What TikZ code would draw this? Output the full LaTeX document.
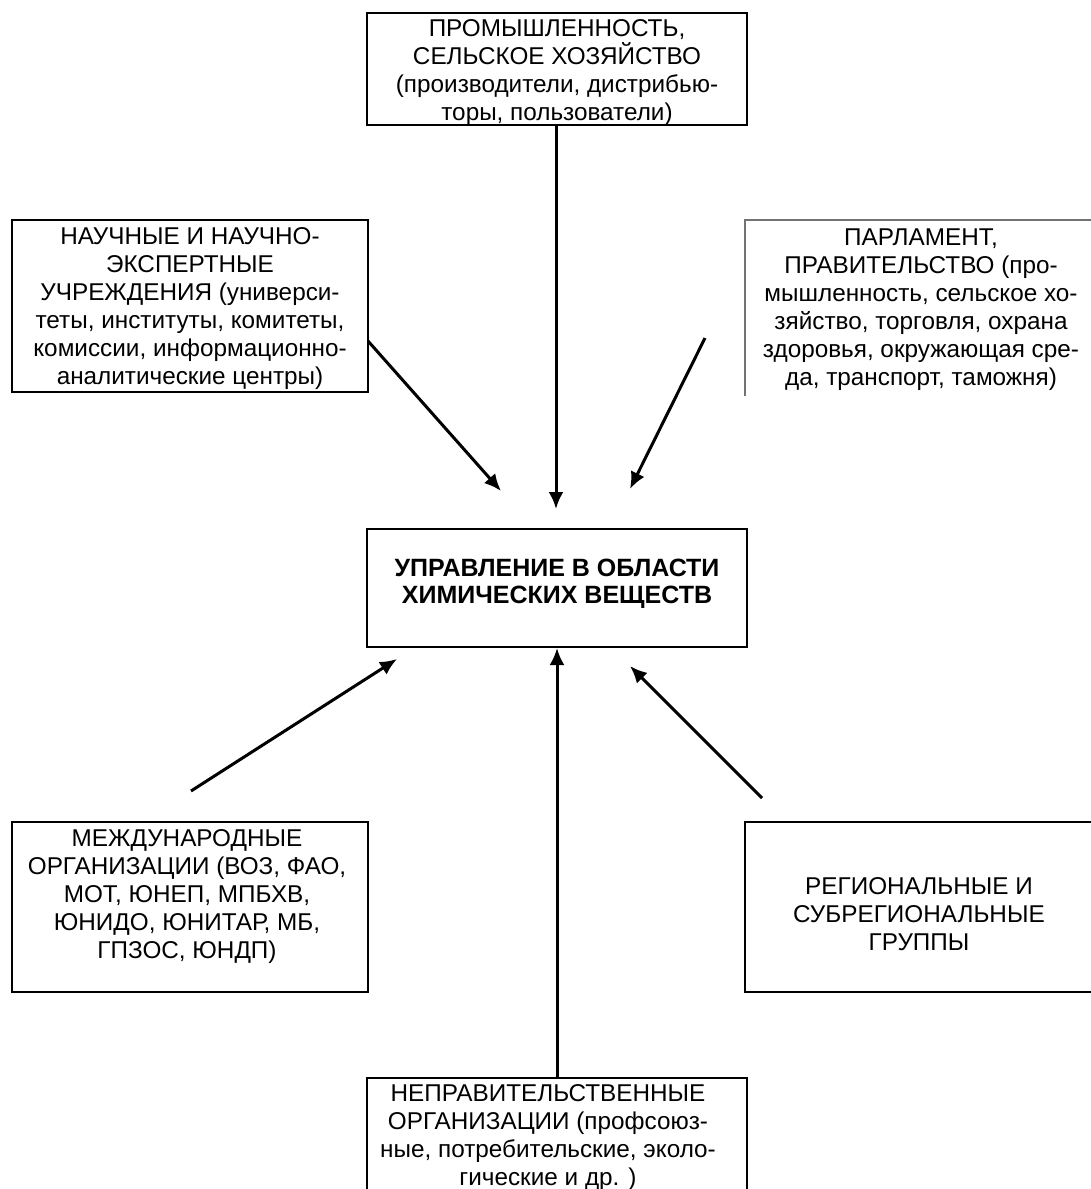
\documentclass[tikz,border=0pt]{standalone}
\usepackage{fontspec}
\setmainfont{Liberation Sans}
\usetikzlibrary{arrows.meta}
\tikzset{
  boxline/.style={draw=black, line width=1.8pt},
  thinline/.style={draw=black!55, line width=1.2pt},
  boxnode/.style={boxline, inner sep=0pt, minimum width=#1},
  txt/.style={align=center, inner sep=0pt, font=\fontsize{24.3}{28}\selectfont},
  btxt/.style={align=center, inner sep=0pt, font=\fontsize{25}{27}\selectfont\bfseries},
  arr/.style={line width=3pt, -{Latex[length=17pt,width=15pt]}}
}
\begin{document}
\begin{tikzpicture}[x=1pt,y=-1pt]
\useasboundingbox[fill=white] (0,0) rectangle (1091,1189);

% boxes
\node[boxnode=380pt, minimum height=112pt] (top) at (557,69) {};
\node[txt] (toptxt) at (557,73) {ПРОМЫШЛЕННОСТЬ,\\СЕЛЬСКОЕ ХОЗЯЙСТВО\\(производители, дистрибью-\\торы, пользователи)};

\node[boxnode=356pt, minimum height=172pt] (lu) at (190,306) {};
\node[txt] (lutxt) at (190,309) {НАУЧНЫЕ И НАУЧНО-\\ЭКСПЕРТНЫЕ\\УЧРЕЖДЕНИЯ (универси-\\теты, институты, комитеты,\\комиссии, информационно-\\аналитические центры)};

\draw[thinline] (1095,220) -- (745,220) -- (745,396);
\node[txt] (rutxt) at (921,310) {ПАРЛАМЕНТ,\\ПРАВИТЕЛЬСТВО (про-\\мышленность, сельское хо-\\зяйство, торговля, охрана\\здоровья, окружающая сре-\\да, транспорт, таможня)};

\node[boxnode=380pt, minimum height=118pt] (center) at (557,588) {};
\node[btxt] (centertxt) at (557,584) {УПРАВЛЕНИЕ В ОБЛАСТИ\\ХИМИЧЕСКИХ ВЕЩЕСТВ};

\node[boxnode=356pt, minimum height=170pt] (ll) at (190,907) {};
\node[txt] (lltxt) at (187,897) {МЕЖДУНАРОДНЫЕ\\ОРГАНИЗАЦИИ (ВОЗ, ФАО,\\МОТ, ЮНЕП, МПБХВ,\\ЮНИДО, ЮНИТАР, МБ,\\ГПЗОС, ЮНДП)};

\draw[boxline] (1095,822) -- (745,822) -- (745,992) -- (1095,992);
\node[txt] (rltxt) at (919,914) {РЕГИОНАЛЬНЫЕ И\\СУБРЕГИОНАЛЬНЫЕ\\ГРУППЫ};

\draw[boxline] (367,1195) -- (367,1078) -- (747,1078) -- (747,1195);
\node[txt] (bottxt) at (548,1138) {НЕПРАВИТЕЛЬСТВЕННЫЕ\\ОРГАНИЗАЦИИ (профсоюз-\\ные, потребительские, эколо-\\гические и др. )};

% arrow ends
\coordinate (t1) at (556,509);
\coordinate (s2) at (368,341);
\coordinate (t2) at (501,491);
\coordinate (s3) at (705,338);
\coordinate (t3) at (630,489);
\coordinate (s4) at (191,791);
\coordinate (t4) at (397,659);
\coordinate (s5) at (557,1078);
\coordinate (t5) at (557,648);
\coordinate (s6) at (762,798);
\coordinate (t6) at (630,666);

\draw[arr] (top.south -| t1) -- (t1);
\draw[arr] (s2) -- (t2);
\draw[arr] (s3) -- (t3);
\draw[arr] (s4) -- (t4);
\draw[arr] (s5) -- (t5);
\draw[arr] (s6) -- (t6);
\end{tikzpicture}
\end{document}
